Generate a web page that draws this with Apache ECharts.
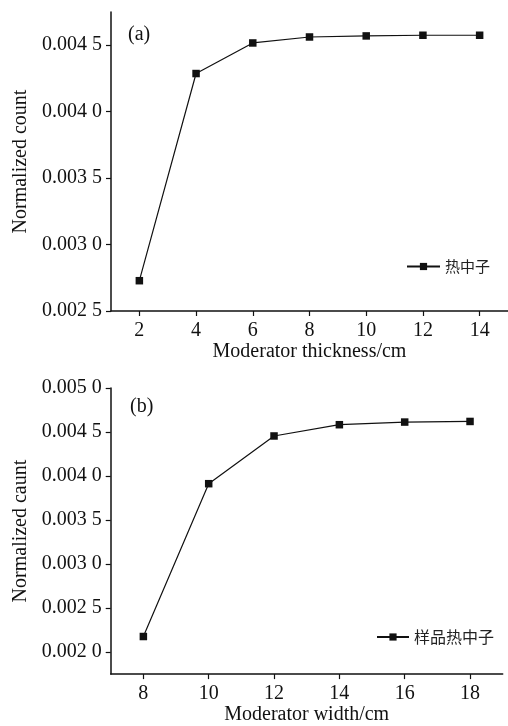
<!DOCTYPE html>
<html>
<head>
<meta charset="utf-8">
<script src="https://cdn.jsdelivr.net/npm/echarts@6/dist/echarts.min.js"></script>
<style>
html,body{margin:0;padding:0;background:#fff;}
#c{width:508px;height:726px;}
</style>
</head>
<body>
<div id="c"></div>
<script>
// (a) moderator thickness
const thickness = [2, 4, 6, 8, 10, 12, 14];
const thermal = [0.002728, 0.004287, 0.004517, 0.004562, 0.00457, 0.004575, 0.004575];
const thicknessTicks = [2, 4, 6, 8, 10, 12, 14];
const yTicksA = [0.0025, 0.003, 0.0035, 0.004, 0.0045];

// (b) moderator width
const widths = [8, 10, 12, 14, 16, 18];
const sampleThermal = [0.002177, 0.003913, 0.004455, 0.004583, 0.004613, 0.00462];
const widthTicks = [8, 10, 12, 14, 16, 18];
const yTicksB = [0.002, 0.0025, 0.003, 0.0035, 0.004, 0.0045, 0.005];

const serif = '"Liberation Serif", "Times New Roman", serif';
const cjk = '"Noto Sans CJK SC", sans-serif';

function fmtY(v) {
  const s = v.toFixed(4);
  return s.slice(0, -1) + ' ' + s.slice(-1);
}

function xAxisCfg(gridIndex, min, max, ticks, name, gap) {
  return {
    type: 'value', gridIndex, min, max,
    name, nameLocation: 'middle', nameGap: gap,
    nameTextStyle: {fontFamily: serif, fontSize: 20, color: '#111'},
    axisLine: {show: true, lineStyle: {color: '#111', width: 1.5}},
    axisTick: {show: true, length: 5, inside: false, customValues: ticks, lineStyle: {color: '#111', width: 1.2}},
    axisLabel: {customValues: ticks, fontFamily: serif, fontSize: 20, color: '#111', margin: 10},
    splitLine: {show: false}
  };
}
function yAxisCfg(gridIndex, min, max, ticks, name, gap) {
  return {
    type: 'value', gridIndex, min, max,
    name, nameLocation: 'middle', nameGap: gap, nameRotate: 90,
    nameTextStyle: {fontFamily: serif, fontSize: 20, color: '#111'},
    axisLine: {show: true, lineStyle: {color: '#111', width: 1.5}},
    axisTick: {show: true, length: 5, inside: false, customValues: ticks, lineStyle: {color: '#111', width: 1.2}},
    axisLabel: {customValues: ticks, fontFamily: serif, fontSize: 20, color: '#111', margin: 9, formatter: fmtY},
    splitLine: {show: false}
  };
}

const chart = echarts.init(document.getElementById('c'), null, {renderer: 'canvas'});
chart.setOption({
  backgroundColor: '#fff',
  animation: false,
  grid: [
    {left: 111, right: -6, top: 12, bottom: 415},
    {left: 110.7, right: 5.3, top: 388, bottom: 50.7}
  ],
  xAxis: [
    xAxisCfg(0, 1, 15, thicknessTicks, 'Moderator thickness/cm', 26),
    xAxisCfg(1, 7, 19, widthTicks, 'Moderator width/cm', 26)
  ],
  yAxis: [
    yAxisCfg(0, 0.0025, 0.00475, yTicksA, 'Normalized count', 73),
    yAxisCfg(1, 0.00175, 0.005, yTicksB, 'Normalized caunt', 73)
  ],
  legend: [
    {data: ['热中子'], left: 406, top: 259, padding: 0, itemWidth: 33, itemHeight: 9, itemGap: 5,
     textStyle: {fontFamily: cjk, fontSize: 15, color: '#222'}},
    {data: ['样品热中子'], left: 376, top: 629, padding: 0, itemWidth: 32, itemHeight: 9, itemGap: 3,
     textStyle: {fontFamily: cjk, fontSize: 16, color: '#222'}}
  ],
  graphic: [
    {type: 'text', left: 128, top: 25, style: {text: '(a)', font: '20px ' + serif, fill: '#111'}},
    {type: 'text', left: 130, top: 397, style: {text: '(b)', font: '20px ' + serif, fill: '#111'}}
  ],
  series: [
    {name: '热中子', type: 'line', xAxisIndex: 0, yAxisIndex: 0,
     data: thickness.map((x, i) => [x, thermal[i]]),
     symbol: 'rect', symbolSize: 7.5, showAllSymbol: true,
     lineStyle: {color: '#111', width: 1.2}, itemStyle: {color: '#111'}},
    {name: '样品热中子', type: 'line', xAxisIndex: 1, yAxisIndex: 1,
     data: widths.map((x, i) => [x, sampleThermal[i]]),
     symbol: 'rect', symbolSize: 7.5, showAllSymbol: true,
     lineStyle: {color: '#111', width: 1.2}, itemStyle: {color: '#111'}}
  ]
});
</script>
</body>
</html>
